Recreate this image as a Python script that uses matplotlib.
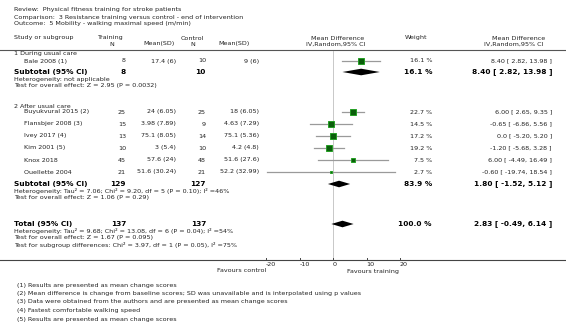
import matplotlib
matplotlib.use('Agg')
import matplotlib.pyplot as plt
import numpy as np

# ---------------------------------------------------------------------------
# Data
# ---------------------------------------------------------------------------
studies = ['Bale 2008 (1)', 'Buyukvural 2015 (2)', 'Flansbjer 2008 (3)',
           'Ivey 2017 (4)', 'Kim 2001 (5)', 'Knox 2018', 'Ouellette 2004']
group = [1, 2, 2, 2, 2, 2, 2]
n_train = [8, 25, 15, 13, 10, 45, 21]
mean_train = [17.4, 24, 3.98, 75.1, 3, 57.6, 51.6]
sd_train = [6, 6.05, 7.89, 8.05, 5.4, 24, 30.24]
n_ctrl = [10, 25, 9, 14, 10, 48, 21]
mean_ctrl = [9, 18, 4.63, 75.1, 4.2, 51.6, 52.2]
sd_ctrl = [6, 6.05, 7.29, 5.36, 4.8, 27.6, 32.99]
weights = [16.1, 22.7, 14.5, 17.2, 19.2, 7.5, 2.7]
md = [8.40, 6.00, -0.65, 0.0, -1.20, 6.00, -0.60]
lo = [2.82, 2.65, -6.86, -5.20, -5.68, -4.49, -19.74]
hi = [13.98, 9.35, 5.56, 5.20, 3.28, 16.49, 18.54]

group_names = ['1 During usual care', '2 After usual care']
sub_n_train = [8, 129]
sub_n_ctrl = [10, 127]
sub_weight = [16.1, 83.9]
sub_md = [8.40, 1.80]
sub_lo = [2.82, -1.52]
sub_hi = [13.98, 5.12]
sub_notes = [
    ['Heterogeneity: not applicable',
     'Test for overall effect: Z = 2.95 (P = 0.0032)'],
    ['Heterogeneity: Tau\u00b2 = 7.06; Chi\u00b2 = 9.20, df = 5 (P = 0.10); I\u00b2 =46%',
     'Test for overall effect: Z = 1.06 (P = 0.29)'],
]

tot_n_train = 137
tot_n_ctrl = 137
tot_weight = 100.0
tot_md, tot_lo, tot_hi = 2.83, -0.49, 6.14
tot_notes = [
    'Heterogeneity: Tau\u00b2 = 9.68; Chi\u00b2 = 13.08, df = 6 (P = 0.04); I\u00b2 =54%',
    'Test for overall effect: Z = 1.67 (P = 0.095)',
    'Test for subgroup differences: Chi\u00b2 = 3.97, df = 1 (P = 0.05), I\u00b2 =75%',
]

xticks = [-20, -10, 0, 10, 20]

footnotes = [
    '(1) Results are presented as mean change scores',
    '(2) Mean difference is change from baseline scores; SD was unavailable and is interpolated using p values',
    '(3) Data were obtained from the authors and are presented as mean change scores',
    '(4) Fastest comfortable walking speed',
    '(5) Results are presented as mean change scores',
]

header_lines = [
    'Review:  Physical fitness training for stroke patients',
    'Comparison:  3 Resistance training versus control - end of intervention',
    'Outcome:  5 Mobility - walking maximal speed (m/min)',
]


def fmt_md(m, l, h):
    ms = '0.0' if m == 0 else f'{m:.2f}'
    return f'{ms} [ {l:.2f}, {h:.2f} ]'


# ---------------------------------------------------------------------------
# Layout (pixel space, 566 x 330)
# ---------------------------------------------------------------------------
W, H = 566, 330
fig = plt.figure(figsize=(W / 100, H / 100), dpi=100)
fig.patch.set_facecolor('white')

ax = fig.add_axes([0, 0, 1, 1])
ax.set_xlim(0, W)
ax.set_ylim(H, 0)
ax.axis('off')

# forest panel: zero at x=333 px, 3.35 px per unit
zero_px, ppu, half = 333, 3.35, 30
left_px = zero_px - half * ppu
fx = fig.add_axes([left_px / W, 0, 2 * half * ppu / W, 1])
fx.set_xlim(-half, half)
fx.set_ylim(H, 0)
fx.axis('off')
fx.patch.set_alpha(0)

FS = 4.6
FB = 5.3
TXT = '#222222'

# column anchors
X_STUDY = 14
X_STUDY_IN = 24
X_TN = 126
X_TM = 176
X_CN = 206
X_CM = 259
X_W = 432
X_CI = 552

# title block
for i, line in enumerate(header_lines):
    ax.text(X_STUDY, 10 + i * 7, line, fontsize=FS, color=TXT, va='center')

# column headers
ax.text(X_STUDY, 38, 'Study or subgroup', fontsize=FS, color=TXT, va='center')
ax.text(110, 38, 'Training', fontsize=FS, color=TXT, va='center', ha='center')
ax.text(112, 44, 'N', fontsize=FS, color=TXT, va='center', ha='center')
ax.text(175, 44, 'Mean(SD)', fontsize=FS, color=TXT, va='center', ha='right')
ax.text(192, 38, 'Control', fontsize=FS, color=TXT, va='center', ha='center')
ax.text(193, 44, 'N', fontsize=FS, color=TXT, va='center', ha='center')
ax.text(250, 44, 'Mean(SD)', fontsize=FS, color=TXT, va='center', ha='right')
ax.text(338, 38, 'Mean Difference', fontsize=FS, color=TXT, va='center', ha='center')
ax.text(336, 44, 'IV,Random,95% CI', fontsize=FS, color=TXT, va='center', ha='center')
ax.text(416, 38, 'Weight', fontsize=FS, color=TXT, va='center', ha='center')
ax.text(519, 38, 'Mean Difference', fontsize=FS, color=TXT, va='center', ha='center')
ax.text(514, 44, 'IV,Random,95% CI', fontsize=FS, color=TXT, va='center', ha='center')
ax.plot([0, W], [50, 50], color='#555555', lw=0.8)

# row y positions (px)
group_y = [54, 106]
study_y = [61, 112, 124, 136, 148, 160, 172]
sub_y = [72, 184]
tot_y = 224
axis_y = 260

# zero line
fx.plot([0, 0], [51, axis_y], color='#c8c8c8', lw=0.7, zorder=1)

# group labels
for gy, name in zip(group_y, group_names):
    ax.text(X_STUDY, gy, name, fontsize=FS, color=TXT, va='center')

# study rows
for i, y in enumerate(study_y):
    ax.text(X_STUDY_IN, y, studies[i], fontsize=FS, color=TXT, va='center')
    ax.text(X_TN, y, str(n_train[i]), fontsize=FS, color=TXT, va='center', ha='right')
    ax.text(X_TM, y, f'{mean_train[i]:g} ({sd_train[i]:g})', fontsize=FS,
            color=TXT, va='center', ha='right')
    ax.text(X_CN, y, str(n_ctrl[i]), fontsize=FS, color=TXT, va='center', ha='right')
    ax.text(X_CM, y, f'{mean_ctrl[i]:g} ({sd_ctrl[i]:g})', fontsize=FS,
            color=TXT, va='center', ha='right')
    ax.text(X_W, y, f'{weights[i]:.1f} %', fontsize=FS, color=TXT, va='center', ha='right')
    ax.text(X_CI, y, fmt_md(md[i], lo[i], hi[i]), fontsize=FS, color=TXT,
            va='center', ha='right')

    fx.plot([lo[i], hi[i]], [y, y], color='#9a9a9a', lw=0.9, zorder=2)
    side = 1.4 * np.sqrt(weights[i]) * 0.72
    fx.plot(md[i], y, marker='s', markersize=side, markerfacecolor='#0b5e0b',
            markeredgecolor='#25a025', markeredgewidth=0.7, zorder=3)


def diamond(axis, m, l, h, y, hh=3.3):
    axis.fill([l, m, h, m], [y, y - hh, y, y + hh], color='black', lw=0, zorder=3)


# subtotals
for k, y in enumerate(sub_y):
    ax.text(X_STUDY, y, 'Subtotal (95% CI)', fontsize=FB, fontweight='bold',
            color='black', va='center')
    ax.text(X_TN, y, str(sub_n_train[k]), fontsize=FB, fontweight='bold',
            va='center', ha='right')
    ax.text(X_CN, y, str(sub_n_ctrl[k]), fontsize=FB, fontweight='bold',
            va='center', ha='right')
    ax.text(X_W, y, f'{sub_weight[k]:.1f} %', fontsize=FB, fontweight='bold',
            va='center', ha='right')
    ax.text(X_CI, y, fmt_md(sub_md[k], sub_lo[k], sub_hi[k]), fontsize=FB,
            fontweight='bold', va='center', ha='right')
    for j, note in enumerate(sub_notes[k]):
        ax.text(X_STUDY, y + 7 + j * 7, note, fontsize=FS, color=TXT, va='center')
    diamond(fx, sub_md[k], sub_lo[k], sub_hi[k], y)

# total
ax.text(X_STUDY, tot_y, 'Total (95% CI)', fontsize=FB, fontweight='bold', va='center')
ax.text(X_TN, tot_y, str(tot_n_train), fontsize=FB, fontweight='bold',
        va='center', ha='right')
ax.text(X_CN, tot_y, str(tot_n_ctrl), fontsize=FB, fontweight='bold',
        va='center', ha='right')
ax.text(X_W, tot_y, f'{tot_weight:.1f} %', fontsize=FB, fontweight='bold',
        va='center', ha='right')
ax.text(X_CI, tot_y, fmt_md(tot_md, tot_lo, tot_hi), fontsize=FB,
        fontweight='bold', va='center', ha='right')
for j, note in enumerate(tot_notes):
    ax.text(X_STUDY, tot_y + 7 + j * 7, note, fontsize=FS, color=TXT, va='center')
diamond(fx, tot_md, tot_lo, tot_hi, tot_y)

# bottom axis
ax.plot([0, W], [axis_y, axis_y], color='#444444', lw=0.8)
for t in xticks:
    fx.plot([t, t], [axis_y, axis_y - 2.5], color='#444444', lw=0.7)
    fx.text(t, axis_y + 5, f'{t:g}', fontsize=FS, color=TXT, va='center', ha='left')
fx.text(-20, axis_y + 11, 'Favours control', fontsize=FS, color=TXT,
        va='center', ha='right')
fx.text(4.2, axis_y + 11, 'Favours training', fontsize=FS, color=TXT,
        va='center', ha='left')

# footnotes
for i, note in enumerate(footnotes):
    ax.text(17, 285 + i * 8.5, note, fontsize=FS, color=TXT, va='center')

fig.savefig('out.png', dpi=100)
